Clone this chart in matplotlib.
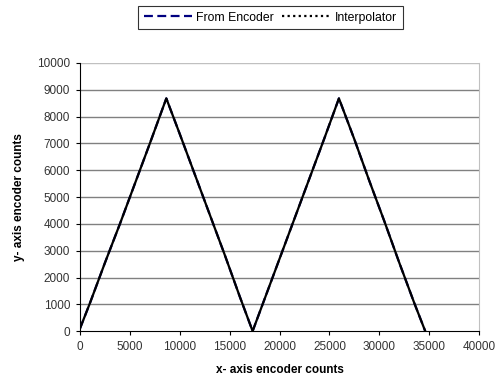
import matplotlib.pyplot as plt

plt.rcParams['font.family'] = ['Liberation Sans', 'DejaVu Sans']

# values
enc_x = [0, 1000, 2500, 4000, 5500, 7000, 8650, 10000, 11500, 13000, 14500, 16000, 17300,
         18500, 20000, 21500, 23000, 24500, 25950, 27500, 29000, 30500, 32000, 33500, 34600]
enc_y = [100, 1050, 2550, 4000, 5500, 7000, 8680, 7350, 5850, 4350, 2850, 1300, 0,
         1200, 2700, 4200, 5700, 7200, 8680, 7150, 5600, 4100, 2550, 1050, 0]
int_x = enc_x
int_y = enc_y

x_ticks = [0, 5000, 10000, 15000, 20000, 25000, 30000, 35000, 40000]
y_ticks = list(range(0, 10001, 1000))

fig = plt.figure(figsize=(4.97, 3.75), dpi=100)
ax = fig.add_axes([0.161, 0.117, 0.803, 0.715])

for y in y_ticks[1:]:
    ax.axhline(y, color='#c0c0c0' if y == 10000 else '#808080', lw=1.0, zorder=1)

ax.plot(enc_x, enc_y, color='#000080', ls=(0, (4, 2)), lw=1.6, label='From Encoder', zorder=3)
ax.plot(int_x, int_y, color='black', ls='-', lw=1.6, zorder=4)
ax.plot([], [], color='black', ls=(0, (1, 1.5)), lw=1.6, label='Interpolator')

ax.set_xlim(0, 40000)
ax.set_ylim(0, 10000)
ax.set_xticks(x_ticks)
ax.set_yticks(y_ticks)
ax.tick_params(labelsize=8.5, length=3, width=0.8, direction='out', colors='black', pad=4)
for lab in ax.get_xticklabels() + ax.get_yticklabels():
    lab.set_color('#333333')

ax.spines['top'].set_visible(False)
ax.spines['right'].set_color('#c0c0c0')
ax.spines['left'].set_linewidth(0.8)
ax.spines['bottom'].set_linewidth(0.8)

ax.set_xlabel('x- axis encoder counts', fontsize=8.5, fontweight='bold', labelpad=8)
ax.set_ylabel('y- axis encoder counts', fontsize=8.5, fontweight='bold', labelpad=9)

leg = fig.legend(loc='center', bbox_to_anchor=(0.544, 0.953), ncol=2, fontsize=8.8,
                 frameon=True, fancybox=False, edgecolor='black', handlelength=4.0,
                 handletextpad=0.3, columnspacing=0.7, borderpad=0.45)
leg.get_frame().set_linewidth(0.8)

fig.savefig('out.png', dpi=100)
